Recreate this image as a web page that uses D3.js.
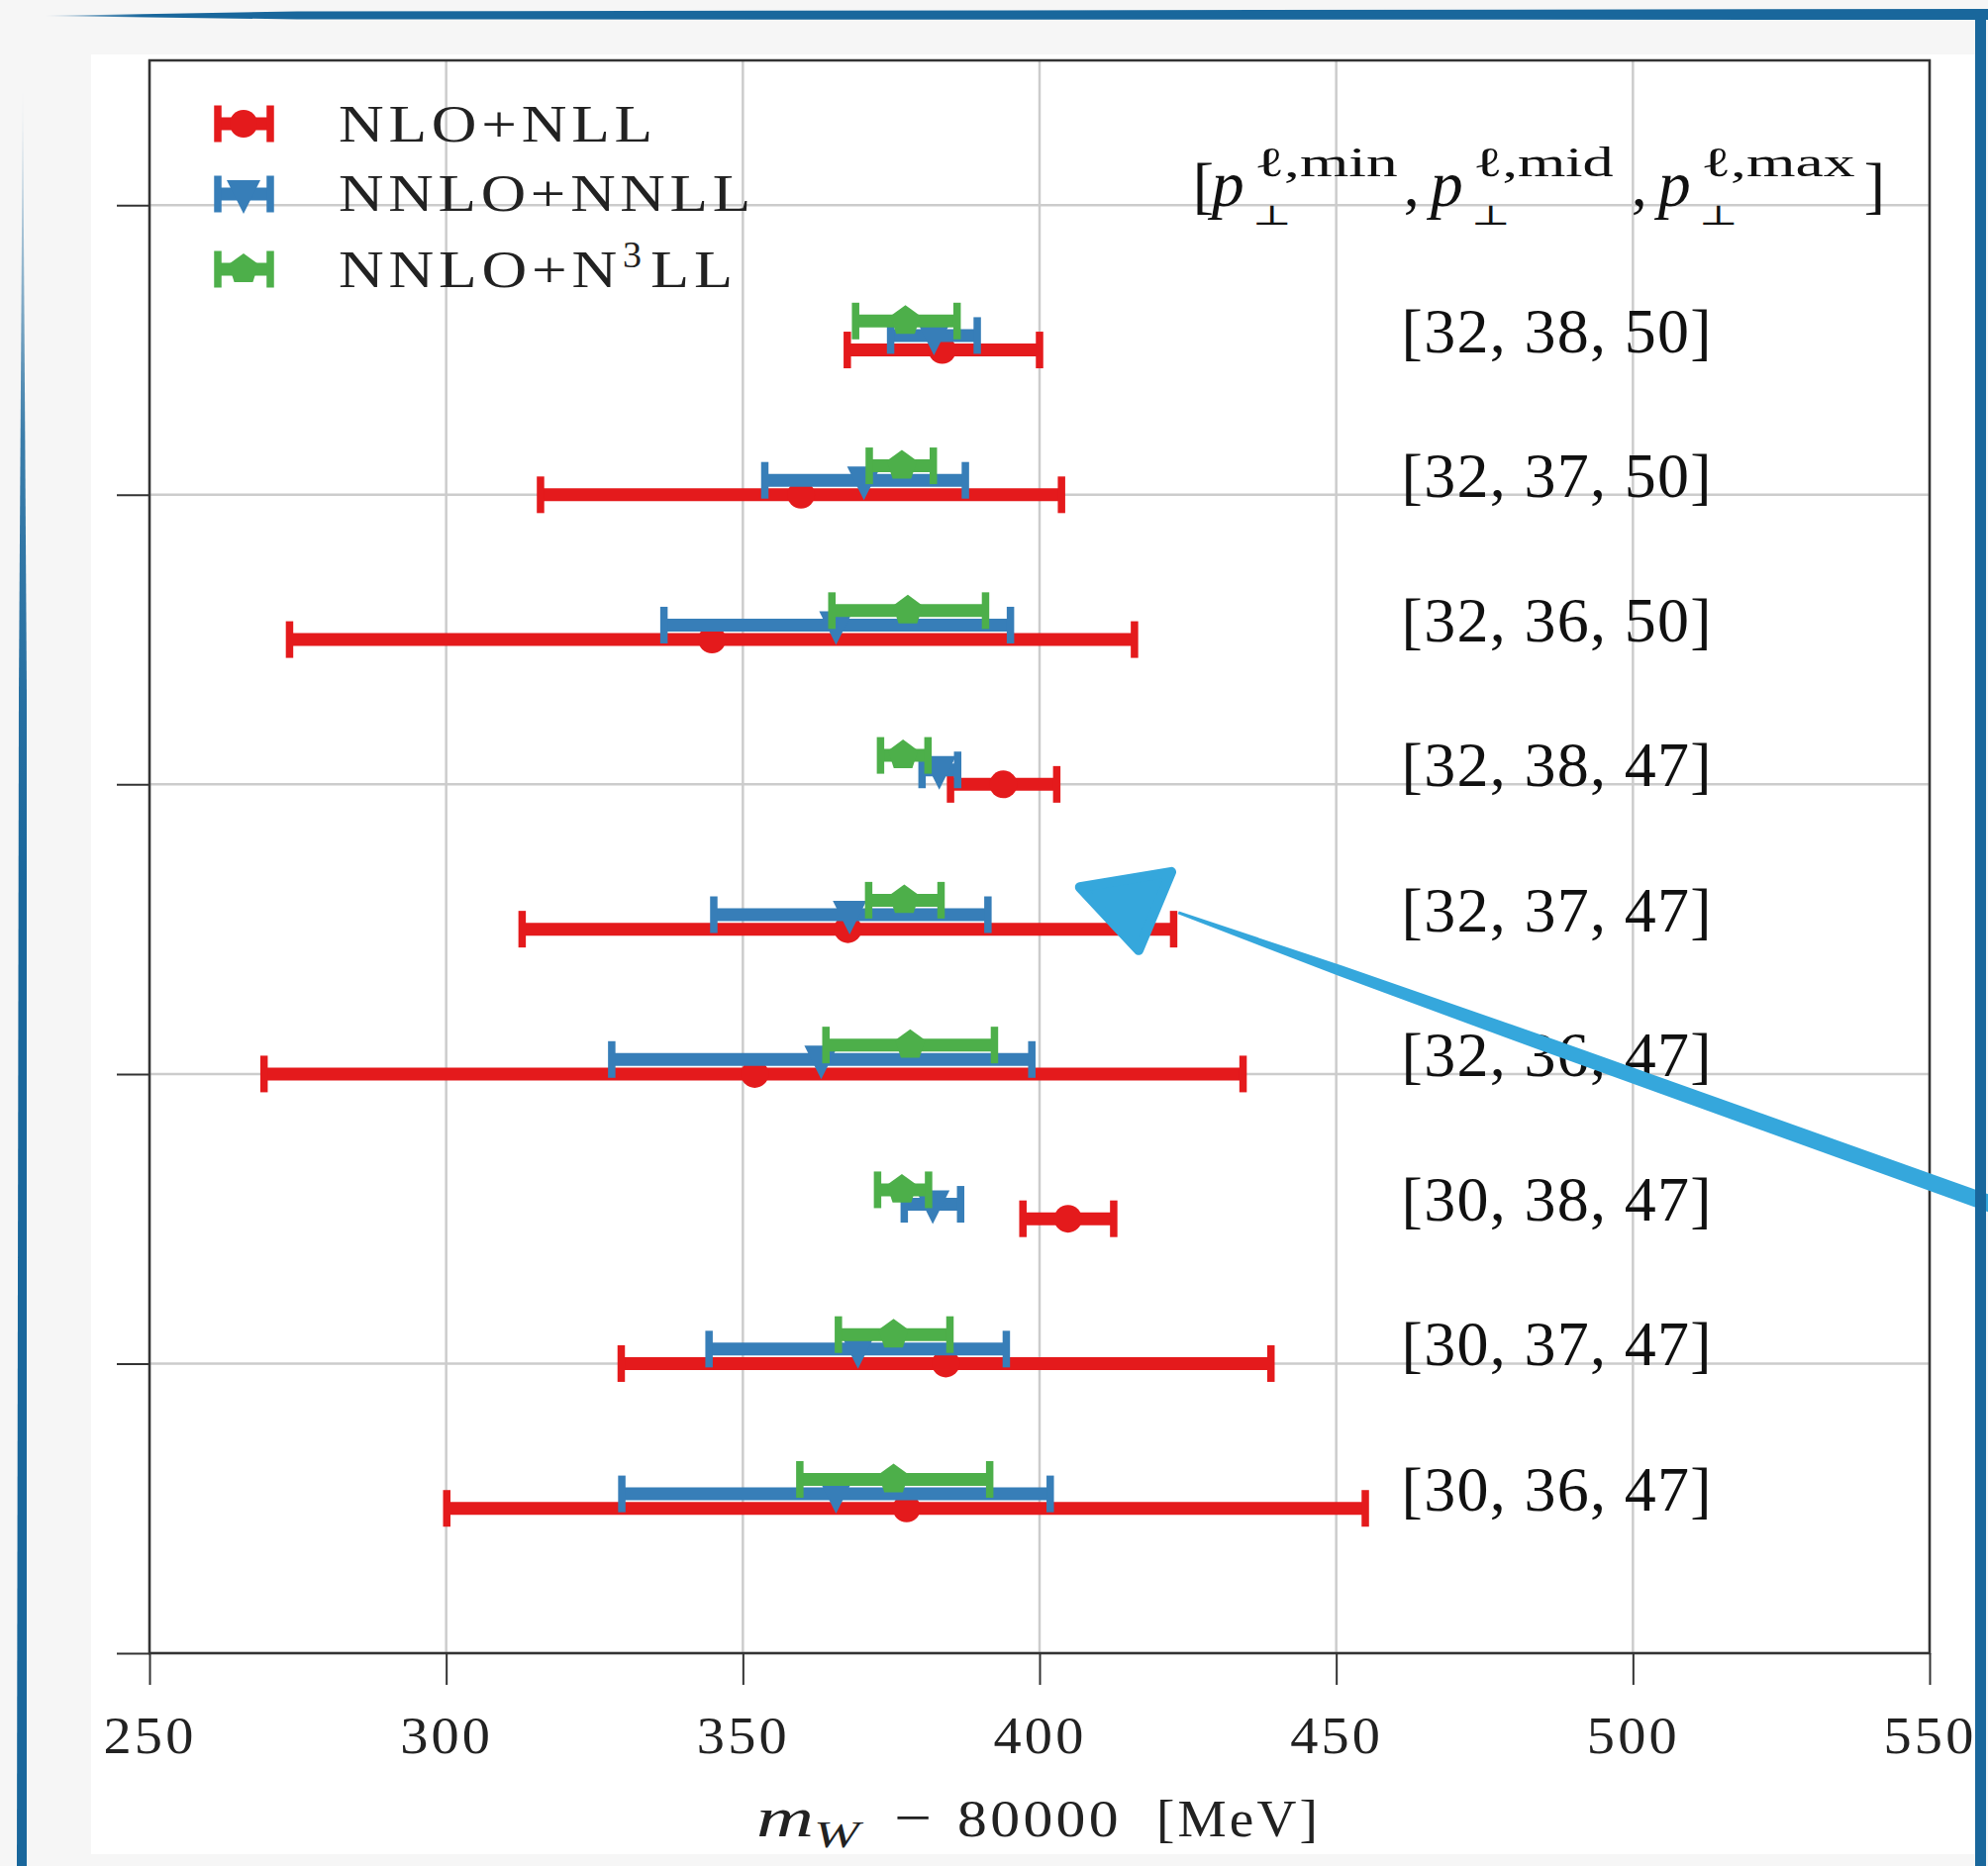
<!DOCTYPE html>
<html>
<head>
<meta charset="utf-8">
<script src="https://cdn.jsdelivr.net/npm/d3@7"></script>
<style>
  body { margin: 0; background: #f6f6f6; }
  svg { display: block; }
</style>
</head>
<body>
<script>
(() => {
    // Scan settings, one entry per row (bottom to top).
    const rowLabels = ["[30, 36, 47]", "[30, 37, 47]", "[30, 38, 47]",
                       "[32, 36, 47]", "[32, 37, 47]", "[32, 38, 47]",
                       "[32, 36, 50]", "[32, 37, 50]", "[32, 38, 50]"];
    const rowPos = [1, 2, 3, 4, 5, 6, 7, 8, 9];

    // m_W - 80000 [MeV], central value and band edges.
    const nloCentral  = [377.6, 384.2, 404.8, 352.0, 367.7, 393.9, 344.8, 359.8, 383.6];
    const nloLow      = [300.1, 329.5, 397.2, 269.3, 312.8, 385.0, 273.6, 315.9, 367.6];
    const nloHigh     = [454.9, 439.0, 412.5, 434.3, 422.6, 402.9, 416.0, 403.7, 400.0];

    const nnloCentral = [365.7, 369.4, 382.0, 363.2, 368.0, 383.1, 365.7, 370.4, 382.2];
    const nnloLow     = [329.6, 344.3, 377.2, 327.9, 345.1, 380.2, 336.7, 353.7, 374.9];
    const nnloHigh    = [401.8, 394.4, 386.7, 398.7, 391.3, 386.2, 395.1, 387.5, 389.5];

    const n3llCentral = [375.4, 375.4, 376.8, 378.2, 377.2, 377.0, 377.8, 376.8, 377.4];
    const n3llLow     = [359.6, 366.1, 372.7, 364.0, 371.2, 373.2, 365.0, 371.3, 369.0];
    const n3llHigh    = [391.6, 384.9, 381.3, 392.4, 383.4, 381.2, 390.9, 382.1, 386.1];

    const xTicks = [250, 300, 350, 400, 450, 500, 550];
    const yTicks = [0, 2, 4, 6, 8, 10];

    const WIDTH = 2008;
    const HEIGHT = 1885;
    const SERIF = "'Liberation Serif', 'DejaVu Serif', serif";
    const TEXT_COLOR = "#222";
    const GRID_COLOR = "#cccccc";
    const FRAME_BLUE = "#19679c";
    const ARROW_BLUE = "#35a7dc";

    const series = [
        {name: "NLO+NLL", color: "#e41a1c", marker: "circle", offset: 0.0,
         c: nloCentral, lo: nloLow, hi: nloHigh},
        {name: "NNLO+NNLL", color: "#377eb8", marker: "triangle", offset: 0.1,
         c: nnloCentral, lo: nnloLow, hi: nnloHigh},
        {name: "NNLO+N3LL", color: "#4daf4a", marker: "pentagon", offset: 0.2,
         c: n3llCentral, lo: n3llLow, hi: n3llHigh}
    ];

    let svg = d3.select("body").append("svg")
        .attr("width", WIDTH)
        .attr("height", HEIGHT);

    let x = d3.scaleLinear().domain([250, 550]).range([151, 1949]);
    let y = d3.scaleLinear().domain([0, 11]).range([1670, 61]);

    // Stretch a text element to a given width (wide, TeX-like glyphs).
    function fit(sel, len) {
        return sel.attr("textLength", len).attr("lengthAdjust", "spacingAndGlyphs");
    }

    // Background: grey page, white figure.
    svg.append("rect").attr("width", WIDTH).attr("height", HEIGHT).attr("fill", "#f6f6f6");
    svg.append("rect")
        .attr("x", 92).attr("y", 55)
        .attr("width", 1995 - 92).attr("height", 1873 - 55)
        .attr("fill", "#ffffff");

    // Grid.
    let grid = svg.append("g").attr("stroke", GRID_COLOR).attr("stroke-width", 2.5);
    grid.selectAll("line.vx").data(xTicks).enter().append("line")
        .attr("x1", d => x(d)).attr("x2", d => x(d))
        .attr("y1", y(0)).attr("y2", y(11));
    grid.selectAll("line.hy").data(yTicks).enter().append("line")
        .attr("x1", x(250)).attr("x2", x(550))
        .attr("y1", d => y(d)).attr("y2", d => y(d));

    // Axes (ticks outward, no y labels).
    let xAxis = svg.append("g")
        .attr("transform", `translate(0,${y(0)})`)
        .call(d3.axisBottom(x).tickValues(xTicks).tickSize(32).tickSizeOuter(0));
    xAxis.select(".domain").remove();
    xAxis.selectAll("line").attr("stroke", "#333").attr("stroke-width", 2);
    xAxis.selectAll("text")
        .attr("y", 101).attr("dy", null)
        .attr("fill", TEXT_COLOR)
        .attr("font-family", SERIF)
        .attr("font-size", 53)
        .attr("letter-spacing", 3)
        .call(fit, 94);

    let yAxis = svg.append("g")
        .attr("transform", `translate(${x(250)},0)`)
        .call(d3.axisLeft(y).tickValues(yTicks).tickSize(33).tickSizeOuter(0).tickFormat(""));
    yAxis.select(".domain").remove();
    yAxis.selectAll("line").attr("stroke", "#333").attr("stroke-width", 2);

    // Frame.
    svg.append("rect")
        .attr("x", x(250)).attr("y", y(11))
        .attr("width", x(550) - x(250)).attr("height", y(0) - y(11))
        .attr("fill", "none").attr("stroke", "#333").attr("stroke-width", 2.5);

    // Marker shapes.
    function markerPath(type) {
        if (type === "triangle") {
            return "M-17,-14L17,-14L0,20Z";
        }
        if (type === "pentagon") {
            let pts = d3.range(5).map(i => {
                let a = (-90 + 72 * i) * Math.PI / 180;
                return [16 * Math.cos(a), 16 * Math.sin(a)];
            });
            return "M" + pts.map(p => p.join(",")).join("L") + "Z";
        }
        return d3.symbol(d3.symbolCircle, Math.PI * 14 * 14)();
    }

    function drawErrorbar(g, x0, x1, xc, yc, color, marker) {
        g.append("line")
            .attr("x1", x0).attr("x2", x1)
            .attr("y1", yc).attr("y2", yc)
            .attr("stroke", color).attr("stroke-width", 13);
        [x0, x1].forEach(xx => {
            g.append("line")
                .attr("x1", xx).attr("x2", xx)
                .attr("y1", yc - 18.5).attr("y2", yc + 18.5)
                .attr("stroke", color).attr("stroke-width", 7.5);
        });
        g.append("path")
            .attr("d", markerPath(marker))
            .attr("transform", `translate(${xc},${yc})`)
            .attr("fill", color);
    }

    // Data: one group per series, drawn in order.
    series.forEach(s => {
        let g = svg.append("g").attr("class", "series");
        rowPos.forEach((k, i) => {
            drawErrorbar(g, x(s.lo[i]), x(s.hi[i]), x(s.c[i]), y(k + s.offset), s.color, s.marker);
        });
    });

    // Row labels.
    const LABEL_X = 461;
    svg.append("g").selectAll("text").data(rowLabels).enter().append("text")
        .attr("x", x(LABEL_X))
        .attr("y", (d, i) => y(rowPos[i]) + 2)
        .attr("font-family", SERIF)
        .attr("font-size", 64)
        .attr("fill", "#111")
        .attr("textLength", 313)
        .attr("lengthAdjust", "spacing")
        .text(d => d);

    // Header [p_perp^{l,min}, p_perp^{l,mid}, p_perp^{l,max}].
    let header = svg.append("g")
        .attr("transform", `translate(${x(425.8)},${y(10) + 1})`)
        .attr("font-family", SERIF)
        .attr("fill", "#111");
    const headerParts = [
        {t: "[", dx: 0, dy: 0, size: 64},
        {t: ",", dx: 213, dy: 0, size: 64},
        {t: ",", dx: 443, dy: 0, size: 64},
        {t: "]", dx: 678, dy: 0, size: 64}
    ];
    [{dx: 19, sup: "\u2113,min", supLen: 145},
     {dx: 240, sup: "\u2113,mid", supLen: 142},
     {dx: 470, sup: "\u2113,max", supLen: 156}].forEach(p => {
        headerParts.push({t: "p", dx: p.dx, dy: 0, size: 66, italic: true});
        headerParts.push({t: "\u22A5", dx: p.dx + 41, dy: 19, size: 28, len: 40});
        headerParts.push({t: p.sup, dx: p.dx + 43, dy: -30, size: 42, len: p.supLen});
    });
    headerParts.forEach(p => {
        let t = header.append("text")
            .attr("x", p.dx).attr("y", p.dy)
            .attr("font-size", p.size)
            .attr("font-style", p.italic ? "italic" : null)
            .text(p.t);
        if (p.len) {
            t.call(fit, p.len);
        }
    });

    // x-axis label: m_W - 80000 [MeV].
    let xlab = svg.append("g")
        .attr("font-family", SERIF)
        .attr("fill", TEXT_COLOR);
    xlab.append("text").attr("x", 764).attr("y", 1855)
        .attr("font-size", 58).attr("font-style", "italic").call(fit, 58).text("m");
    xlab.append("text").attr("x", 822).attr("y", 1866)
        .attr("font-size", 38).attr("font-style", "italic").call(fit, 46).text("W");
    xlab.append("text").attr("x", 903).attr("y", 1855)
        .attr("font-size", 56).call(fit, 38).text("\u2212");
    xlab.append("text").attr("x", 967).attr("y", 1855)
        .attr("font-size", 53).attr("letter-spacing", 3).call(fit, 166).text("80000");
    xlab.append("text").attr("x", 1168).attr("y", 1855)
        .attr("font-size", 53).attr("letter-spacing", 3).call(fit, 166).text("[MeV]");

    // Legend.
    const legendY = [125, 196, 272];
    const legendBase = [143, 213, 290];
    let legend = svg.append("g");
    series.forEach((s, i) => {
        drawErrorbar(legend, 220, 273, 246, legendY[i], s.color, s.marker);
    });
    let ltext = legend.append("g")
        .attr("font-family", SERIF)
        .attr("font-size", 53)
        .attr("letter-spacing", 4)
        .attr("fill", TEXT_COLOR);
    ltext.append("text").attr("x", 342).attr("y", legendBase[0])
        .call(fit, 322).text("NLO+NLL");
    ltext.append("text").attr("x", 342).attr("y", legendBase[1])
        .call(fit, 421).text("NNLO+NNLL");
    ltext.append("text").attr("x", 342).attr("y", legendBase[2])
        .call(fit, 286).text("NNLO+N");
    ltext.append("text").attr("x", 629).attr("y", legendBase[2] - 20)
        .attr("font-size", 38).attr("letter-spacing", 0).text("3");
    ltext.append("text").attr("x", 657).attr("y", legendBase[2])
        .call(fit, 88).text("LL");

    // Hand-drawn arrow annotation, anchored in data space.
    const arrowStart = [423.4, 5.114];
    const arrowEnd = [560.5, 3.10];
    const arrowHead = [[406.8, 5.29], [422.2, 5.395], [416.7, 4.855]];
    let sx = x(arrowStart[0]), sy = y(arrowStart[1]);
    let ex = x(arrowEnd[0]), ey = y(arrowEnd[1]);
    let len = Math.hypot(ex - sx, ey - sy);
    let nx = -(ey - sy) / len, ny = (ex - sx) / len;
    let widths = [[0, 1.5], [0.2, 5.5], [0.45, 7.5], [1, 8.5]];
    let upper = widths.map(([t, w]) => [sx + (ex - sx) * t + nx * w, sy + (ey - sy) * t + ny * w]);
    let lower = widths.slice().reverse().map(([t, w]) => [sx + (ex - sx) * t - nx * w, sy + (ey - sy) * t - ny * w]);
    svg.append("path")
        .attr("d", "M" + upper.concat(lower).map(p => p.join(",")).join("L") + "Z")
        .attr("fill", ARROW_BLUE);
    svg.append("path")
        .attr("d", "M" + arrowHead.map(p => [x(p[0]), y(p[1])].join(",")).join("L") + "Z")
        .attr("fill", ARROW_BLUE)
        .attr("stroke", ARROW_BLUE)
        .attr("stroke-width", 10)
        .attr("stroke-linejoin", "round");

    // Hand-drawn blue frame around the figure.
    let defs = svg.append("defs");
    let gTop = defs.append("linearGradient").attr("id", "fadeTop")
        .attr("x1", 0).attr("x2", 1).attr("y1", 0).attr("y2", 0);
    gTop.append("stop").attr("offset", 0).attr("stop-color", FRAME_BLUE).attr("stop-opacity", 0.2);
    gTop.append("stop").attr("offset", 0.05).attr("stop-color", FRAME_BLUE).attr("stop-opacity", 1);
    let gLeft = defs.append("linearGradient").attr("id", "fadeLeft")
        .attr("x1", 0).attr("x2", 0).attr("y1", 0).attr("y2", 1);
    gLeft.append("stop").attr("offset", 0).attr("stop-color", FRAME_BLUE).attr("stop-opacity", 0);
    gLeft.append("stop").attr("offset", 0.2).attr("stop-color", FRAME_BLUE).attr("stop-opacity", 0.85);
    gLeft.append("stop").attr("offset", 0.45).attr("stop-color", FRAME_BLUE).attr("stop-opacity", 1);

    svg.append("path")
        .attr("d", "M45,16 L300,11.5 L2008,9 L2008,20 L300,19.5 Z")
        .attr("fill", "url(#fadeTop)");
    svg.append("rect")
        .attr("x", 1995).attr("y", 9).attr("width", 11).attr("height", HEIGHT - 9)
        .attr("fill", FRAME_BLUE);
    svg.append("path")
        .attr("d", "M23,80 L27,700 L27,1885 L17,1885 L19,700 Z")
        .attr("fill", "url(#fadeLeft)");
})();
</script>
</body>
</html>
